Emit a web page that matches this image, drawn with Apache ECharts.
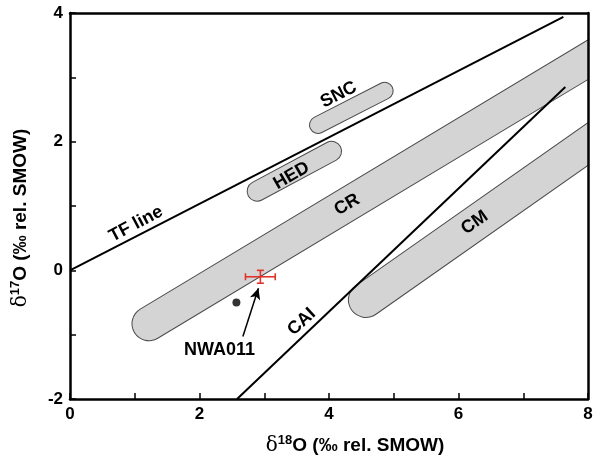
<!DOCTYPE html>
<html><head><meta charset="utf-8">
<script src="https://cdn.jsdelivr.net/npm/echarts@6/dist/echarts.min.js"></script>
<style>html,body{margin:0;padding:0;background:#fff}#c{width:597px;height:465px}</style>
</head><body><div id="c"></div>
<script>
// ---- data ----
const xTicks = [0, 2, 4, 6, 8];
const yTicks = [-2, 0, 2, 4];
const tfLine = [[0, 0], [7.62, 3.94]];
const caiLine = [[2.58, -2], [7.65, 2.85]];
const bandNames = ['CR', 'CM', 'HED', 'SNC'];
const bandStart = [[1.22, -0.83], [4.57, -0.46], [2.89, 1.23], [3.83, 2.26]];
const bandEnd = [[9.0, 3.88], [9.0, 2.67], [4.04, 1.85], [4.86, 2.79]];
const nwa011 = [2.94, -0.10];
const nwa011Err = [0.23, 0.10];
const otherPoint = [2.57, -0.50];
const arrowFrom = [2.67, -1.03];
const arrowTo = [2.91, -0.28];
const labelText = ['TF line', 'SNC', 'HED', 'CR', 'CM', 'CAI', 'NWA011'];
const labelPos = [[1.02, 0.72], [4.15, 2.73], [3.42, 1.47], [4.28, 1.02], [6.25, 0.74], [3.58, -0.80], [2.31, -1.24]];
const labelAngle = [28, 27, 30, 30, 35, 43, 0];

// ---- styles ----
const bandWidth = { CR: 33, CM: 34, HED: 19, SNC: 16 };
const FONT = 'Liberation Sans, Arial, Helvetica, sans-serif';
const axisLineStyle = { color: '#000', width: 2.5 };

const chart = echarts.init(document.getElementById('c'), null, { renderer: 'canvas' });

function bandRender(params, api) {
  const p1 = api.coord([api.value(0), api.value(1)]);
  const p2 = api.coord([api.value(2), api.value(3)]);
  const w = bandWidth[bandNames[params.dataIndex]];
  const shape = { x1: p1[0], y1: p1[1], x2: p2[0], y2: p2[1] };
  return {
    type: 'group', children: [
      { type: 'line', shape: shape, style: { stroke: '#4a4a4a', lineWidth: w + 2, lineCap: 'round' } },
      { type: 'line', shape: shape, style: { stroke: '#d4d4d4', lineWidth: w, lineCap: 'round' } }
    ]
  };
}

function errRender(params, api) {
  const x = api.value(0), y = api.value(1), ex = api.value(2), ey = api.value(3);
  const l = api.coord([x - ex, y]), r = api.coord([x + ex, y]);
  const t = api.coord([x, y + ey]), b = api.coord([x, y - ey]);
  const st = { stroke: '#e0342a', lineWidth: 1.6 };
  const c = 3.5;
  const L = (x1, y1, x2, y2) => ({ type: 'line', shape: { x1, y1, x2, y2 }, style: st });
  return {
    type: 'group', children: [
      L(l[0], l[1], r[0], r[1]),
      L(t[0], t[1], b[0], b[1]),
      L(l[0], l[1] - c, l[0], l[1] + c),
      L(r[0], r[1] - c, r[0], r[1] + c),
      L(t[0] - c, t[1], t[0] + c, t[1]),
      L(b[0] - c, b[1], b[0] + c, b[1])
    ]
  };
}

function textRender(params, api) {
  const p = api.coord([api.value(0), api.value(1)]);
  const i = params.dataIndex;
  return {
    type: 'text', x: p[0], y: p[1], rotation: labelAngle[i] * Math.PI / 180,
    style: {
      text: labelText[i], fill: '#000', fontSize: 18, fontWeight: 'bold', fontFamily: FONT,
      align: 'center', verticalAlign: 'middle'
    }
  };
}

const nameRich = {
  d: { fontSize: 20, fontFamily: 'DejaVu Serif', color: '#000', lineHeight: 23 },
  s: { fontSize: 13, fontWeight: 'bold', fontFamily: FONT, color: '#000', verticalAlign: 'top', lineHeight: 14 },
  t: { fontSize: 19, fontWeight: 'bold', fontFamily: FONT, color: '#000', lineHeight: 23 }
};

const option = {
  animation: false,
  backgroundColor: '#fff',
  textStyle: { fontFamily: FONT },
  grid: { left: 70, right: 9, top: 13, bottom: 66, containLabel: false },
  xAxis: [{
    type: 'value', min: 0, max: 8, interval: 1, position: 'bottom', z: 10,
    axisLine: { onZero: false, lineStyle: axisLineStyle },
    axisTick: { inside: true, length: 6, lineStyle: { color: '#000', width: 1.5 } },
    axisLabel: { formatter: v => xTicks.includes(v) ? String(v) : '', color: '#000', fontSize: 17, fontWeight: 'bold', fontFamily: FONT, margin: 7 },
    splitLine: { show: false },
    name: '{d|δ}{s|18}{t|O (‰ rel. SMOW)}', nameLocation: 'middle', nameGap: 35,
    nameTextStyle: { rich: nameRich, padding: [0, 0, 0, 52] }
  }, {
    type: 'value', min: 0, max: 8, position: 'top', z: 10,
    axisLine: { show: true, onZero: false, lineStyle: axisLineStyle },
    axisTick: { show: false }, axisLabel: { show: false }, splitLine: { show: false }
  }],
  yAxis: [{
    type: 'value', min: -2, max: 4, interval: 1, position: 'left', z: 10,
    axisLine: { onZero: false, lineStyle: axisLineStyle },
    axisTick: { inside: true, length: 6, lineStyle: { color: '#000', width: 1.5 } },
    axisLabel: { formatter: v => yTicks.includes(v) ? String(v) : '', color: '#000', fontSize: 17, fontWeight: 'bold', fontFamily: FONT, margin: 7 },
    splitLine: { show: false },
    name: '{d|δ}{s|17}{t|O (‰ rel. SMOW)}', nameLocation: 'middle', nameGap: 38,
    nameTextStyle: { rich: nameRich, padding: [0, 24, 0, 0] }
  }, {
    type: 'value', min: -2, max: 4, position: 'right', z: 10,
    axisLine: { show: true, onZero: false, lineStyle: axisLineStyle },
    axisTick: { show: false }, axisLabel: { show: false }, splitLine: { show: false }
  }],
  series: [
    {
      type: 'line', data: caiLine, symbol: 'none', silent: true,
      lineStyle: { color: '#000', width: 2 }
    },
    {
      type: 'custom', silent: true, clip: true,
      data: bandNames.map((n, i) => [bandStart[i][0], bandStart[i][1], bandEnd[i][0], bandEnd[i][1]]),
      encode: { x: [0, 2], y: [1, 3] },
      renderItem: bandRender
    },
    {
      type: 'line', data: tfLine, symbol: 'none', silent: true,
      lineStyle: { color: '#000', width: 2 },
      markLine: {
        silent: true, symbol: ['none', 'arrow'], symbolSize: [8, 11],
        lineStyle: { color: '#000', width: 1.5, type: 'solid' },
        label: { show: false },
        data: [[{ coord: arrowFrom }, { coord: arrowTo }]]
      }
    },
    {
      type: 'scatter', data: [otherPoint], symbol: 'circle', symbolSize: 8, silent: true,
      itemStyle: { color: '#000' }
    },
    {
      type: 'custom', silent: true,
      data: [[nwa011[0], nwa011[1], nwa011Err[0], nwa011Err[1]]],
      encode: { x: 0, y: 1 },
      renderItem: errRender
    },
    {
      type: 'custom', silent: true,
      data: labelPos,
      encode: { x: 0, y: 1 },
      renderItem: textRender
    }
  ]
};
chart.setOption(option);
</script>
</body></html>
